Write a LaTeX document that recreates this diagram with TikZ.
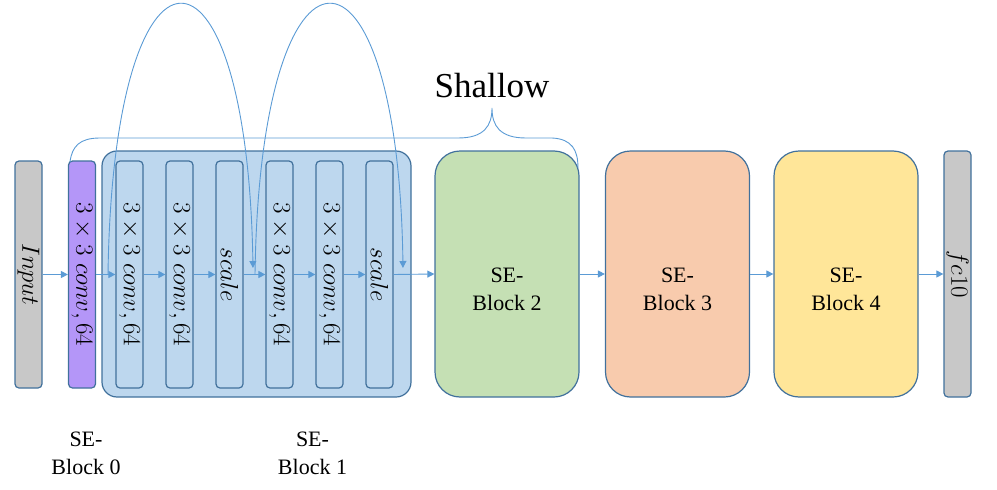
\documentclass[tikz,border=0pt]{standalone}
\usepackage{graphicx}
\usepackage[no-math]{fontspec}
\setmainfont{Liberation Serif}
\usetikzlibrary{arrows.meta}
\definecolor{bord}{HTML}{41719C}
\definecolor{arr}{HTML}{5B9BD5}
\definecolor{grayf}{HTML}{C8C8C8}
\definecolor{purpf}{HTML}{B496F8}
\definecolor{bluef}{HTML}{BDD7EE}
\definecolor{greenf}{HTML}{C5E0B4}
\definecolor{orangef}{HTML}{F8CBAD}
\definecolor{yellowf}{HTML}{FFE699}
\newcommand\vlab[1]{\rotatebox{-90}{\fontsize{28}{28}\selectfont$#1$}}
\tikzset{
  box/.style={draw=bord, line width=1.2pt, rounded corners=4pt, minimum width=27pt, minimum height=227pt, inner sep=0pt},
  endbox/.style={box, minimum height=246pt},
  bigbox/.style={draw=bord, line width=1.2pt, rounded corners=25pt, minimum width=144pt, minimum height=246pt, inner sep=0pt},
  conn/.style={draw=arr, line width=0.9pt, -{Triangle[length=7pt,width=7pt]}},
  thin/.style={draw=arr, line width=0.9pt},
  lbl/.style={font=\fontsize{22}{28}\selectfont, align=center, inner sep=0pt},
}
\begin{document}
\begin{tikzpicture}[x=1pt,y=-1pt]
\useasboundingbox (0,0) rectangle (997,490);
% SE-Block 1 container
\node[draw=bord, line width=1.2pt, fill=bluef, rounded corners=15pt, minimum width=309pt, minimum height=246pt, inner sep=0pt] (blk1) at (256.5,274) {};
% boxes
\node[endbox, minimum height=227pt, fill=grayf] (in) at (28.5,274.5) {\vlab{Input}};
\node[box, fill=purpf] (c0) at (82,274.5) {\vlab{3\times3\ conv,64}};
\node[box, fill=bluef] (c1) at (129.5,274.5) {\vlab{3\times3\ conv,64}};
\node[box, fill=bluef] (c2) at (179.5,274.5) {\vlab{3\times3\ conv,64}};
\node[box, fill=bluef] (s1) at (229.5,274.5) {\vlab{scale}};
\node[box, fill=bluef] (c3) at (279.5,274.5) {\vlab{3\times3\ conv,64}};
\node[box, fill=bluef] (c4) at (329.5,274.5) {\vlab{3\times3\ conv,64}};
\node[box, fill=bluef] (s2) at (379.5,274.5) {\vlab{scale}};
\node[bigbox, fill=greenf] (se2) at (507,274) {};
\node[bigbox, fill=orangef] (se3) at (677.5,274) {};
\node[bigbox, fill=yellowf] (se4) at (846,274) {};
\node[endbox, fill=grayf] (fc) at (957.5,274) {\vlab{fc10}};
% labels
\node[lbl] (se2t) at (507,289) {SE-\\Block 2};
\node[lbl] (se3t) at (677.5,289) {SE-\\Block 3};
\node[lbl] (se4t) at (846,289) {SE-\\Block 4};
\node[lbl] (b0) at (86,453) {SE-\\Block 0};
\node[lbl] (b1) at (312.5,453) {SE-\\Block 1};
\node[font=\fontsize{35}{35}\selectfont, inner sep=0pt] (sh) at (492,86) {Shallow};
% main arrows
\draw[conn] (in.east) -- (c0.west);
\draw[conn] (c0.east) -- (c1.west);
\draw[conn] (c1.east) -- (c2.west);
\draw[conn] (c2.east) -- (s1.west);
\draw[conn] (s1.east) -- (c3.west);
\draw[conn] (c3.east) -- (c4.west);
\draw[conn] (c4.east) -- (s2.west);
\draw[conn] (s2.east) -- (se2.west);
\draw[conn] (se2.east) -- (se3.west);
\draw[conn] (se3.east) -- (se4.west);
\draw[conn] (se4.east) -- (fc.west);
% skip arcs
\coordinate (a1s) at (108,274.5);
\coordinate (a1e) at (253,268);
\coordinate (a2s) at (255,274.5);
\coordinate (a2e) at (403,268);
\draw[conn] (a1s) .. controls (113,-85) and (247,-85) .. (a1e);
\draw[conn] (a2s) .. controls (260,-85) and (398,-85) .. (a2e);
% brace
\coordinate (brL) at (70,162);
\coordinate (brT) at (492,108);
\coordinate (brR) at (578,168);
\draw[thin] (brL) .. controls (72,146) and (80,138) .. (100,138) -- (458,138)
  .. controls (484,138) and (492,126) .. (brT)
  .. controls (492,126) and (500,138) .. (526,138) -- (552,138)
  .. controls (572,139) and (578,150) .. (brR);
\end{tikzpicture}
\end{document}
